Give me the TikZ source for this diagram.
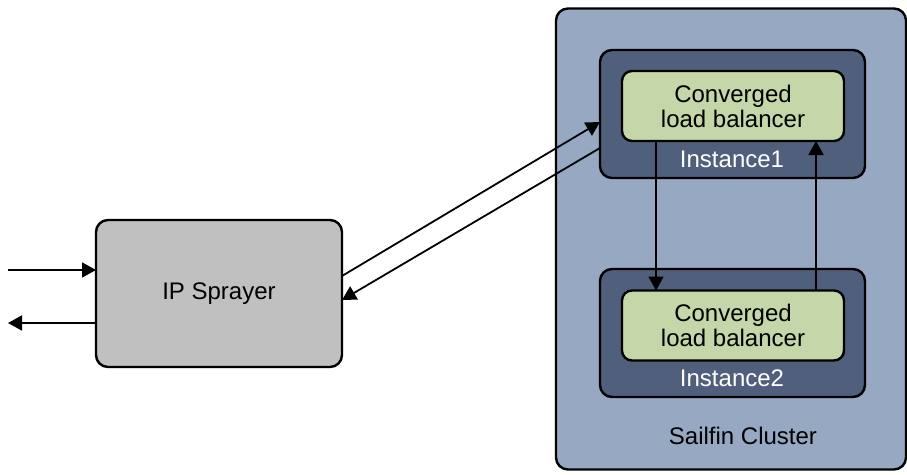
\documentclass[tikz,border=0pt]{standalone}
\usepackage{fontspec}
\setmainfont{Liberation Sans}
\usetikzlibrary{arrows.meta,calc}
\definecolor{clusterfill}{HTML}{97A8C3}
\definecolor{instfill}{HTML}{50607C}
\definecolor{lbfill}{HTML}{C5D6A8}
\definecolor{ipfill}{HTML}{C0C0C0}
\begin{document}
\begin{tikzpicture}[x=1pt,y=-1pt,
  font=\fontsize{24}{25}\selectfont,
  box/.style={draw=black,line width=2.4pt,rounded corners=12pt,inner sep=0pt,outer sep=0pt},
  cluster/.style={box,fill=clusterfill,minimum width=350pt,minimum height=461pt},
  inst/.style={box,fill=instfill,minimum width=265pt,minimum height=128pt},
  lb/.style={box,fill=lbfill,rounded corners=10pt,minimum width=222pt,minimum height=70pt,align=center},
  ip/.style={box,fill=ipfill,minimum width=246pt,minimum height=147pt},
  lbl/.style={inner sep=0pt},
  arr/.style={line width=1.8pt,-{Triangle[length=14pt,width=15pt]}}]
\useasboundingbox (0,0) rectangle (907,474);
\node[cluster] (cl) at (731,239) {};
\node[inst] (i1) at (732.5,114) {};
\node[inst] (i2) at (732.5,333) {};
\node[lb] (g1) at (733,106) {Converged\\load balancer};
\node[lb] (g2) at (733,325.5) {Converged\\load balancer};
\node[lbl,text=white] (t1) at (732,159) {Instance1};
\node[lbl,text=white] (t2) at (732,378) {Instance2};
\node[lbl] (tc) at (743,436) {Sailfin Cluster};
\node[ip] (ip) at (219,293.5) {IP Sprayer};
\coordinate (xa) at (656,0);
\coordinate (xb) at (816,0);
\coordinate (inA) at (8,270);
\coordinate (outA) at (8,323);
\draw[arr] (g1.south -| xa) -- (g2.north -| xa);
\draw[arr] (g2.north -| xb) -- (g1.south -| xb);
\draw[arr] ([yshift=17.5pt]ip.east) -- ([yshift=-8pt]i1.west);
\draw[arr] ([yshift=-34pt]i1.west) -- ([yshift=-6.5pt]ip.east);
\draw[arr] (inA) -- ([yshift=23.5pt]ip.west);
\draw[arr] ([yshift=-29.5pt]ip.west) -- (outA);
\end{tikzpicture}
\end{document}
